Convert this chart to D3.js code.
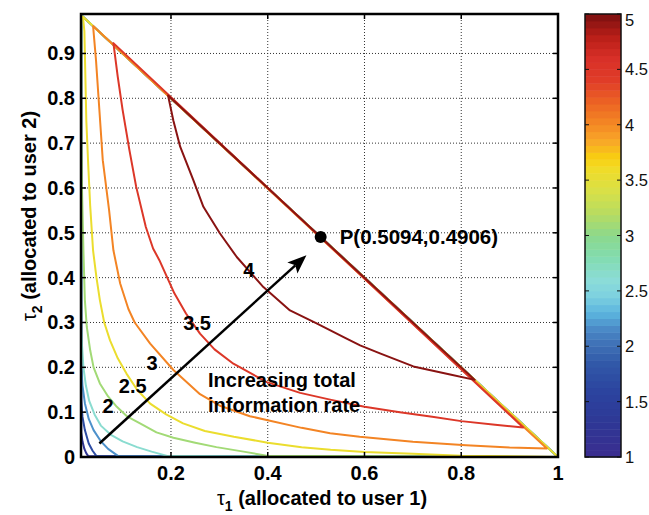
<!DOCTYPE html>
<html>
<head>
<meta charset="utf-8">
<script src="https://cdn.jsdelivr.net/npm/d3@7"></script>
<style>
  body { margin: 0; background: #fff; }
  svg { display: block; font-family: "Liberation Sans", Arial, sans-serif; }
</style>
</head>
<body>
<div id="chart"></div>
<script>
// ---- datos ----
const xTicks = [0.2, 0.4, 0.6, 0.8, 1];
const yTicks = [0, 0.1, 0.2, 0.3, 0.4, 0.5, 0.6, 0.7, 0.8, 0.9];
const cbTicks = [1, 1.5, 2, 2.5, 3, 3.5, 4, 4.5, 5];

// colormap de la barra (valor -> color)
const cbStops  = [1.0, 1.3, 1.6, 1.85, 2.0, 2.15, 2.3, 2.45, 2.6, 2.8, 3.0, 3.2, 3.4, 3.6, 3.7, 3.85, 4.0, 4.2, 4.4, 4.6, 4.8, 5.0];
const cbColors = ['#3b2d8f', '#2e3795', '#2c449f', '#3159a8', '#3d6eb4', '#4a88c6', '#5bb4de', '#7dd0e0', '#8cdcd8', '#82dcb0', '#8cd88c',
                  '#b8dc60', '#d8e048', '#f0dc28', '#f8d010', '#f8a828', '#f48a24', '#ec6424', '#e03c28', '#d83028', '#b81e18', '#7a1010'];

// niveles de las curvas de contorno
const levels = [1.25, 1.71, 2.18, 2.64, 3.1, 3.56, 4.03, 4.49, 4.95];

// curvas (tau1, tau2)
const cNavy   = [[0.0145, 0.055], [0.017, 0.035], [0.021, 0.018], [0.025, 0.008], [0.029, 0.002]];
const cBlue   = [[0.0145, 0.125], [0.017, 0.09], [0.022, 0.06], [0.03, 0.03], [0.038, 0.014], [0.046, 0.002]];
const cSteel  = [[0.0145, 0.21], [0.017, 0.16], [0.022, 0.12], [0.03, 0.085], [0.04, 0.06], [0.055, 0.035], [0.07, 0.018], [0.091, 0.002]];
const cCyan   = [[0.0145, 0.29], [0.016, 0.25], [0.019, 0.2], [0.024, 0.16], [0.031, 0.125], [0.042, 0.095], [0.055, 0.07],
                 [0.075, 0.05], [0.1, 0.035], [0.13, 0.022], [0.16, 0.012], [0.194, 0.002]];
const cGreen  = [[0.0145, 0.75], [0.016, 0.6], [0.019, 0.46], [0.022, 0.35], [0.026, 0.29], [0.033, 0.238], [0.04, 0.2], [0.053, 0.164],
                 [0.07, 0.135], [0.088, 0.112], [0.11, 0.09], [0.136, 0.075], [0.17, 0.055], [0.205, 0.043], [0.25, 0.032],
                 [0.294, 0.022], [0.35, 0.012], [0.398, 0.003]];
const cYellow = [[0.018, 0.982], [0.021, 0.95], [0.023, 0.85], [0.025, 0.75], [0.029, 0.65], [0.033, 0.56], [0.039, 0.46], [0.046, 0.4],
                 [0.053, 0.35], [0.062, 0.3], [0.074, 0.26], [0.09, 0.22], [0.108, 0.186], [0.13, 0.15], [0.157, 0.119], [0.19, 0.095],
                 [0.225, 0.075], [0.27, 0.058], [0.33, 0.045], [0.4, 0.032], [0.47, 0.022], [0.53, 0.016], [0.6, 0.011], [0.7, 0.007], [0.8, 0.003]];
const cOrange = [[0.039, 0.961], [0.045, 0.885], [0.052, 0.774], [0.059, 0.662], [0.072, 0.551], [0.081, 0.461], [0.095, 0.387],
                 [0.112, 0.33], [0.125, 0.3], [0.157, 0.253], [0.205, 0.194], [0.26, 0.14], [0.3, 0.115], [0.363, 0.091], [0.4, 0.082],
                 [0.47, 0.065], [0.529, 0.053], [0.59, 0.045], [0.7, 0.034], [0.81, 0.026], [0.9, 0.021], [0.977, 0.019]];
const cRed    = [[0.081, 0.923], [0.09, 0.848], [0.1, 0.774], [0.114, 0.685], [0.128, 0.603], [0.148, 0.513], [0.163, 0.465],
                 [0.176, 0.439], [0.207, 0.365], [0.231, 0.32], [0.26, 0.275], [0.29, 0.24], [0.329, 0.208], [0.398, 0.167],
                 [0.467, 0.143], [0.529, 0.128], [0.6, 0.112], [0.673, 0.1], [0.74, 0.09], [0.8, 0.08], [0.87, 0.072], [0.928, 0.066]];
const cDark   = [[0.194, 0.806], [0.205, 0.75], [0.219, 0.692], [0.246, 0.618], [0.267, 0.558], [0.301, 0.499], [0.336, 0.446],
                 [0.391, 0.379], [0.446, 0.327], [0.501, 0.298], [0.563, 0.264], [0.591, 0.249], [0.632, 0.231], [0.701, 0.202],
                 [0.777, 0.184], [0.828, 0.172]];
const curves = [cNavy, cBlue, cSteel, cCyan, cGreen, cYellow, cOrange, cRed, cDark];

// etiquetas de contorno
const clabelText = ['2', '2.5', '3', '3.5', '4'];
const clabelPos  = [[0.07, 0.113], [0.121, 0.158], [0.161, 0.209], [0.254, 0.298], [0.361, 0.417]];

const pointP = [0.5094, 0.4906];
const arrowFrom = [0.052, 0.03], arrowTo = [0.48, 0.45];

// ---- dibujo ----
const W = 649, H = 515;
const plot = {left: 81, right: 558, top: 14, bottom: 457};
const xDomain = [0.014, 1], yDomain = [0, 0.988];

const svg = d3.select('#chart').append('svg').attr('width', W).attr('height', H);

const x = d3.scaleLinear().domain(xDomain).range([plot.left, plot.right]);
const y = d3.scaleLinear().domain(yDomain).range([plot.bottom, plot.top]);
const color = d3.scaleLinear().domain(cbStops).range(cbColors).interpolate(d3.interpolateRgb);

svg.append('defs').append('clipPath').attr('id', 'clip')
    .append('rect').attr('x', plot.left).attr('y', plot.top)
    .attr('width', plot.right - plot.left).attr('height', plot.bottom - plot.top);

// rejilla punteada
const grid = svg.append('g').attr('stroke', '#333').attr('stroke-width', 1).attr('stroke-dasharray', '1,2');
grid.selectAll('.gx').data(xTicks.filter(d => d < 1)).enter().append('line')
    .attr('x1', d => x(d)).attr('x2', d => x(d)).attr('y1', plot.top).attr('y2', plot.bottom);
grid.selectAll('.gy').data(yTicks.filter(d => d > 0)).enter().append('line')
    .attr('y1', d => y(d)).attr('y2', d => y(d)).attr('x1', plot.left).attr('x2', plot.right);

// contornos: curva + borde del dominio (cerrado)
const line = d3.line().x(d => x(d[0])).y(d => y(d[1]));
const cg = svg.append('g').attr('clip-path', 'url(#clip)').attr('fill', 'none').attr('stroke-width', 2).attr('stroke-linejoin', 'round');
curves.forEach(function(pts, i) {
    let ring = pts.slice();
    let first = pts[0], last = pts[pts.length - 1];
    if (first[0] + first[1] < 0.99) ring.unshift([first[0], 1 - first[0]]);
    if (last[0] + last[1] < 0.99) ring.push([1, 0]);
    cg.append('path').attr('d', line(ring) + 'Z').attr('stroke', color(levels[i]));
});

// caja de ejes
const ax = svg.append('g').attr('stroke', '#000').attr('stroke-width', 2.5).attr('fill', 'none');
ax.append('rect').attr('x', plot.left).attr('y', plot.top)
    .attr('width', plot.right - plot.left).attr('height', plot.bottom - plot.top);
const tk = svg.append('g').attr('stroke', '#000').attr('stroke-width', 1.5);
xTicks.forEach(function(d) {
    tk.append('line').attr('x1', x(d)).attr('x2', x(d)).attr('y1', plot.bottom).attr('y2', plot.bottom - 5);
    tk.append('line').attr('x1', x(d)).attr('x2', x(d)).attr('y1', plot.top).attr('y2', plot.top + 5);
});
yTicks.forEach(function(d) {
    tk.append('line').attr('y1', y(d)).attr('y2', y(d)).attr('x1', plot.left).attr('x2', plot.left + 5);
    tk.append('line').attr('y1', y(d)).attr('y2', y(d)).attr('x1', plot.right).attr('x2', plot.right - 5);
});

// etiquetas de ticks
svg.append('g').selectAll('text').data(xTicks).enter().append('text')
    .attr('x', d => x(d)).attr('y', 480).attr('text-anchor', 'middle')
    .attr('font-size', 20).attr('font-weight', 'bold').attr('fill', '#000')
    .text(d => d);
svg.append('g').selectAll('text').data(yTicks).enter().append('text')
    .attr('x', 75).attr('y', d => y(d) + 7).attr('text-anchor', 'end')
    .attr('font-size', 20).attr('font-weight', 'bold').attr('fill', '#000')
    .text(d => d);

// títulos de ejes
const xl = svg.append('text').attr('x', 322).attr('y', 505).attr('text-anchor', 'middle')
    .attr('font-size', 20).attr('font-weight', 'bold').attr('fill', '#000');
xl.append('tspan').attr('font-weight', 'normal').text('τ');
xl.append('tspan').attr('font-size', 14).attr('dy', 6).text('1');
xl.append('tspan').attr('dy', -6).text(' (allocated to user 1)');

const yl = svg.append('text').attr('transform', 'translate(36,216) rotate(-90)').attr('text-anchor', 'middle')
    .attr('font-size', 20).attr('font-weight', 'bold').attr('fill', '#000');
yl.append('tspan').attr('font-weight', 'normal').text('τ');
yl.append('tspan').attr('font-size', 14).attr('dy', 6).text('2');
yl.append('tspan').attr('dy', -6).text(' (allocated to user 2)');

// etiquetas de contorno
svg.append('g').selectAll('text').data(clabelText).enter().append('text')
    .attr('x', (d, i) => x(clabelPos[i][0])).attr('y', (d, i) => y(clabelPos[i][1]) + 7)
    .attr('text-anchor', 'middle').attr('font-size', 20).attr('font-weight', 'bold').attr('fill', '#000')
    .text(d => d);

// flecha
const ax0 = x(arrowFrom[0]), ay0 = y(arrowFrom[1]), ax1 = x(arrowTo[0]), ay1 = y(arrowTo[1]);
const ang = Math.atan2(ay1 - ay0, ax1 - ax0);
const hl = 19, hw = 7.5, notch = 4;
function rot(px, py) { return [ax1 + px * Math.cos(ang) - py * Math.sin(ang), ay1 + px * Math.sin(ang) + py * Math.cos(ang)]; }
svg.append('line').attr('x1', ax0).attr('y1', ay0)
    .attr('x2', rot(-hl + notch, 0)[0]).attr('y2', rot(-hl + notch, 0)[1])
    .attr('stroke', '#000').attr('stroke-width', 2.5);
svg.append('polygon')
    .attr('points', [rot(0, 0), rot(-hl, -hw), rot(-hl + notch, 0), rot(-hl, hw)].map(p => p.join(',')).join(' '))
    .attr('fill', '#000');

const note = svg.append('text').attr('font-size', 20).attr('font-weight', 'bold').attr('fill', '#000');
note.append('tspan').attr('x', 208).attr('y', 387).text('Increasing total');
note.append('tspan').attr('x', 208).attr('y', 412).text('information rate');

// punto P
svg.append('circle').attr('cx', x(pointP[0])).attr('cy', y(pointP[1])).attr('r', 6).attr('fill', '#000');
svg.append('text').attr('x', x(pointP[0]) + 19).attr('y', y(pointP[1]) + 7)
    .attr('font-size', 20.5).attr('font-weight', 'bold').attr('fill', '#000')
    .text('P(' + pointP[0] + ',' + pointP[1] + ')');

// barra de color
const cb = {left: 585, right: 621};
const cbY = d3.scaleLinear().domain([1, 5]).range([plot.bottom, plot.top]);
const nBands = 64;
const bands = d3.range(nBands).map(i => 1 + (i + 0.5) * 4 / nBands);
svg.append('g').selectAll('rect').data(bands).enter().append('rect')
    .attr('x', cb.left).attr('width', cb.right - cb.left)
    .attr('y', d => cbY(d + 2 / nBands)).attr('height', cbY(1) - cbY(1 + 4 / nBands) + 0.5)
    .attr('fill', d => color(d));
svg.append('rect').attr('x', cb.left).attr('y', plot.top).attr('width', cb.right - cb.left)
    .attr('height', plot.bottom - plot.top).attr('fill', 'none').attr('stroke', '#111').attr('stroke-width', 1.5);
const cbt = svg.append('g').attr('stroke', '#111').attr('stroke-width', 1);
cbTicks.forEach(function(d) {
    cbt.append('line').attr('x1', cb.left).attr('x2', cb.left + 4).attr('y1', cbY(d)).attr('y2', cbY(d));
    cbt.append('line').attr('x1', cb.right).attr('x2', cb.right - 4).attr('y1', cbY(d)).attr('y2', cbY(d));
});
svg.append('g').selectAll('text').data(cbTicks).enter().append('text')
    .attr('x', 625).attr('y', d => Math.max(cbY(d), 20) + 6)
    .attr('font-size', 16.5).attr('fill', '#111')
    .text(d => d);
</script>
</body>
</html>
